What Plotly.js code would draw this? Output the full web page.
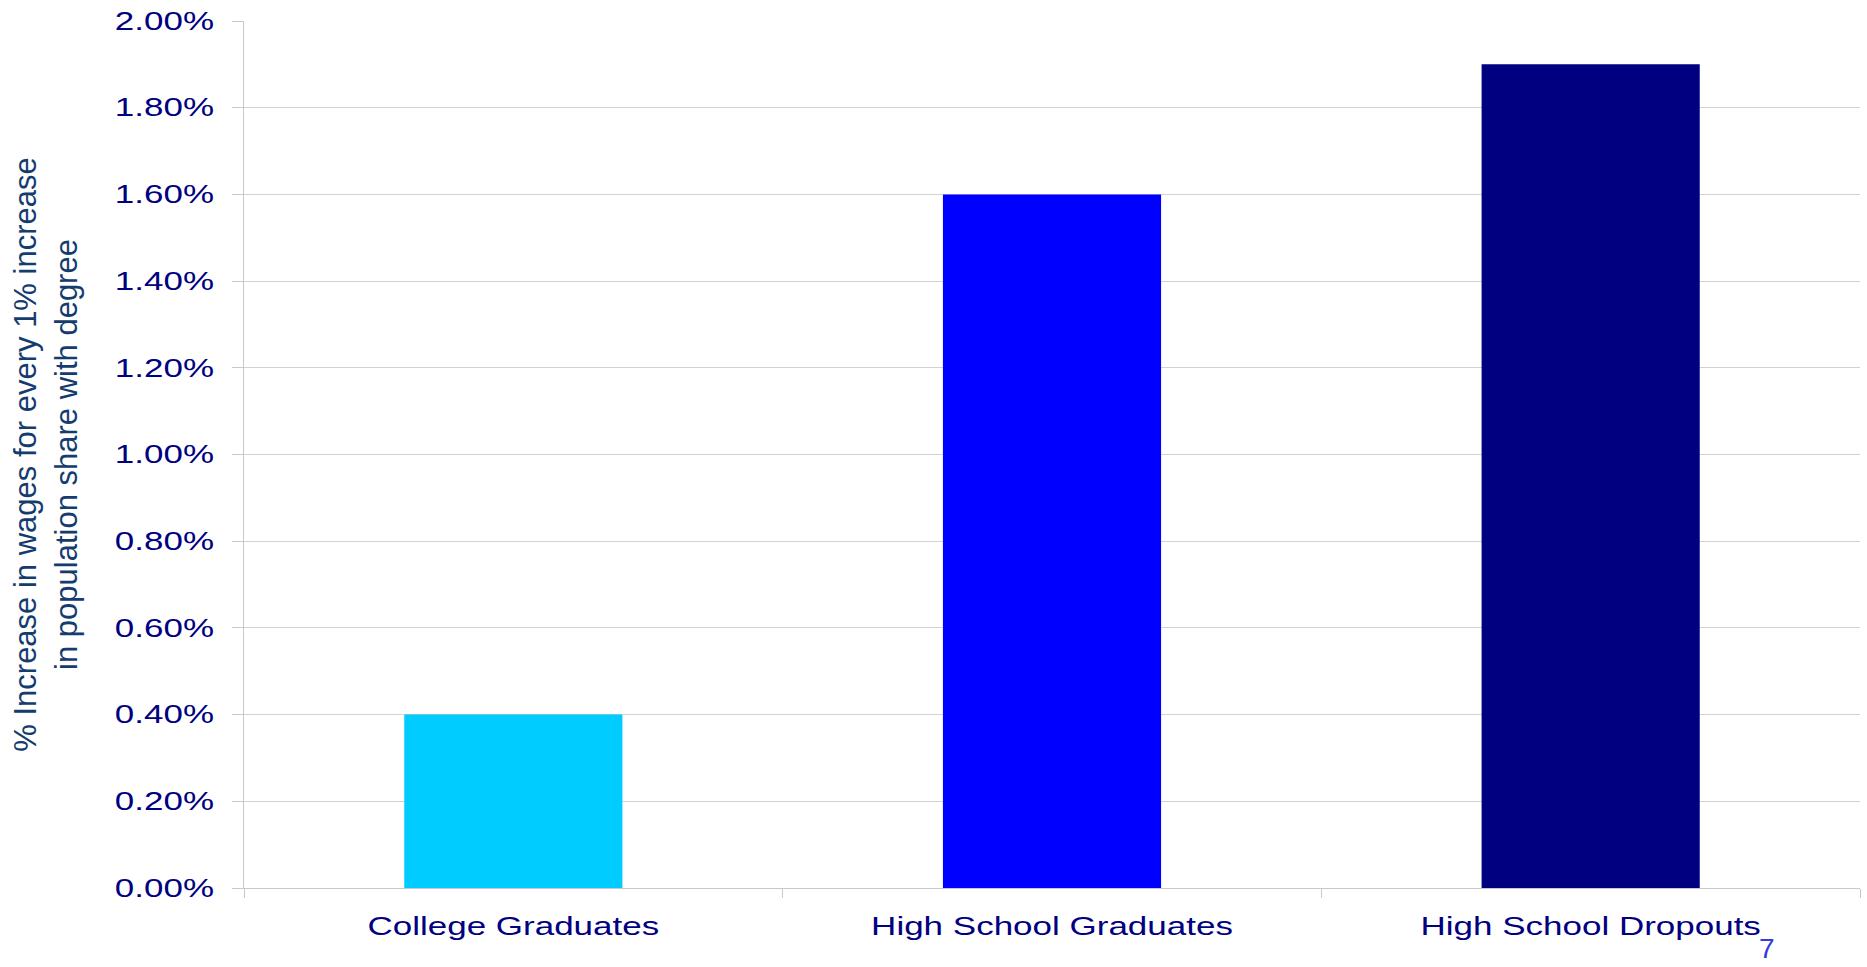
<!DOCTYPE html>
<html>
<head>
<meta charset="utf-8">
<script src="https://cdn.plot.ly/plotly-3.0.1.min.js"></script>
<style>
  html, body { margin: 0; padding: 0; background: #ffffff; }
  #chart { width: 1867px; height: 967px; }
</style>
</head>
<body>
<div id="chart"></div>
<script>
// ---- Data ----
const categories = ["College Graduates", "High School Graduates", "High School Dropouts"];
const values = [0.004, 0.016, 0.019];
const barColors = ["#00CCFF", "#0000FF", "#000080"];
const yTitle = "% Increase in wages for every 1% increase<br>in population share with degree";
const pageNumber = "7";

const trace = {
  type: "bar",
  x: categories,
  y: values,
  marker: { color: barColors, line: { width: 0 } },
  hoverinfo: "x+y"
};

const layout = {
  width: 1867,
  height: 967,
  margin: { l: 244, r: 7, t: 21, b: 79, pad: 0 },
  paper_bgcolor: "#ffffff",
  plot_bgcolor: "#ffffff",
  showlegend: false,
  bargap: 0.595,
  font: { family: "Liberation Sans, Arial, sans-serif", color: "#000080" },
  xaxis: {
    type: "category",
    showline: true,
    linecolor: "#c8c8c8",
    linewidth: 1,
    ticks: "outside",
    tickson: "boundaries",
    ticklen: 9,
    tickcolor: "#c8c8c8",
    tickwidth: 1,
    showgrid: false,
    tickfont: { family: "Liberation Sans, Arial, sans-serif", size: 25, color: "#000080" },
    ticklabelstandoff: 16
  },
  yaxis: {
    range: [0, 0.02],
    dtick: 0.002,
    tick0: 0,
    tickformat: ".2%",
    showgrid: true,
    gridcolor: "#d2d2d2",
    gridwidth: 1,
    zeroline: false,
    showline: true,
    linecolor: "#c8c8c8",
    linewidth: 1,
    ticks: "outside",
    ticklen: 11,
    tickcolor: "#c8c8c8",
    tickwidth: 1,
    tickfont: { family: "Liberation Sans, Arial, sans-serif", size: 25, color: "#000080" },
    ticklabelstandoff: 13,
    title: {
      text: yTitle,
      font: { family: "Liberation Sans, Arial, sans-serif", size: 31, color: "#143C6E" },
      standoff: 56
    },
    automargin: false
  },
  annotations: [{
    text: pageNumber,
    xref: "paper", yref: "paper",
    x: 0.9425, y: -0.0905,
    xanchor: "center", yanchor: "bottom",
    showarrow: false,
    font: { family: "Liberation Sans, Arial, sans-serif", size: 28, color: "#3a3ad8" }
  }]
};

function stretchTickLabels() {
  const s = 1.4;
  document.querySelectorAll("#chart .xtick text, #chart .ytick text").forEach(t => {
    let base = t.getAttribute("data-basetf");
    if (base === null) {
      base = t.getAttribute("transform") || "";
      t.setAttribute("data-basetf", base);
    }
    const x = parseFloat(t.getAttribute("x")) || 0;
    t.setAttribute("transform", base + " translate(" + x + ",0) scale(" + s + ",1) translate(" + (-x) + ",0)");
  });
}

Plotly.newPlot("chart", [trace], layout, { displayModeBar: false, staticPlot: true })
  .then(stretchTickLabels);
</script>
</body>
</html>
